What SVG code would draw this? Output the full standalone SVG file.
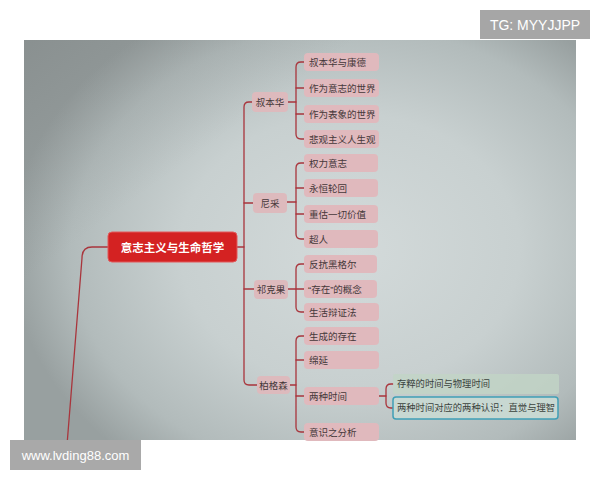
<svg xmlns="http://www.w3.org/2000/svg" width="600" height="480" viewBox="0 0 600 480">
<defs>
<radialGradient id="scr" cx="350" cy="250" r="340" gradientUnits="userSpaceOnUse" gradientTransform="translate(350 250) scale(1 0.8) translate(-350 -250)">
<stop offset="0" stop-color="#d3dada"/>
<stop offset="0.5" stop-color="#c8d0d0"/>
<stop offset="0.82" stop-color="#b2bbbb"/>
<stop offset="1" stop-color="#98a0a0"/>
</radialGradient>
<linearGradient id="topshade" x1="0" y1="0" x2="1" y2="1">
<stop offset="0" stop-color="#6f7373" stop-opacity="0.35"/>
<stop offset="0.3" stop-color="#6f7373" stop-opacity="0"/>
</linearGradient>
</defs>
<style>
.ln{fill:none;stroke:#a9353c;stroke-width:1.3;stroke-linecap:round}
.leaf rect{fill:#e0b9bd}
.leaf text,.br text{font-family:"Liberation Sans","Noto Sans CJK SC",sans-serif;font-size:9.5px;fill:#45383a;dominant-baseline:central}
.br rect{fill:#ddbabd}
.br text{text-anchor:middle}
.sub text{font-family:"Liberation Sans","Noto Sans CJK SC",sans-serif;font-size:9.3px;fill:#3a423d;dominant-baseline:central}
.wm{font-family:"Liberation Sans",Arial,sans-serif;fill:#ffffff;text-anchor:middle}
</style>
<rect x="0" y="0" width="600" height="480" fill="#ffffff"/>
<rect x="24" y="40" width="552" height="400" fill="url(#scr)"/>
<rect x="24" y="40" width="552" height="400" fill="url(#topshade)"/>

<g id="connectors">
<path class="ln" d="M108,247 H92 Q82,247 82,258 L67,445"/>
<path class="ln" d="M237,247 H244"/>
<path class="ln" d="M252,102 H249 Q244,102 244,107 V380 Q244,385 249,385 H257"/>
<path class="ln" d="M244,203 H253"/>
<path class="ln" d="M244,289 H254"/>
<path class="ln" d="M288,102 H296"/>
<path class="ln" d="M304,62 H301 Q296,62 296,67 V134 Q296,139 301,139 H304"/>
<path class="ln" d="M296,88 H304 M296,114 H304"/>
<path class="ln" d="M287,202 H296"/>
<path class="ln" d="M304,163 H301 Q296,163 296,168 V234 Q296,239 301,239 H304"/>
<path class="ln" d="M296,188 H304 M296,214 H304"/>
<path class="ln" d="M288,289 H304"/>
<path class="ln" d="M304,264 H301 Q296,264 296,269 V307 Q296,312 301,312 H304"/>
<path class="ln" d="M290,385 H296"/>
<path class="ln" d="M304,336 H301 Q296,336 296,341 V427 Q296,432 301,432 H304"/>
<path class="ln" d="M296,360 H304 M296,396 H304"/>
<path class="ln" d="M379,396 H386"/>
<path class="ln" d="M393,384 H391 Q386,384 386,389 V403 Q386,408 391,408 H393"/>
</g>

<g id="root">
<rect x="108" y="232" width="129" height="30" rx="4" fill="#d42222" stroke="#e2595a" stroke-width="1"/>
<text x="172.5" y="247" font-family="'Noto Sans CJK SC','Noto Sans',sans-serif" font-size="11.5" font-weight="bold" fill="#ffffff" text-anchor="middle" dominant-baseline="central">意志主义与生命哲学</text>
</g>

<g id="b-schopenhauer" class="br"><rect x="252" y="92" width="36" height="20" rx="4"/><text x="270" y="102">叔本华</text></g>
<g id="b-nietzsche" class="br"><rect x="253" y="193" width="34" height="20" rx="4"/><text x="270" y="203">尼采</text></g>
<g id="b-kierkegaard" class="br"><rect x="254" y="280" width="34" height="19" rx="4"/><text x="271" y="289.5">祁克果</text></g>
<g id="b-bergson" class="br"><rect x="257" y="376" width="33" height="18" rx="4"/><text x="273.5" y="385">柏格森</text></g>

<g id="l1" class="leaf"><rect x="304" y="53" width="75" height="18" rx="4"/><text x="309" y="62">叔本华与康德</text></g>
<g id="l2" class="leaf"><rect x="304" y="79" width="75" height="18" rx="4"/><text x="309" y="88">作为意志的世界</text></g>
<g id="l3" class="leaf"><rect x="304" y="105" width="75" height="18" rx="4"/><text x="309" y="114">作为表象的世界</text></g>
<g id="l4" class="leaf"><rect x="304" y="130" width="75" height="18" rx="4"/><text x="309" y="139">悲观主义人生观</text></g>
<g id="l5" class="leaf"><rect x="304" y="154" width="74" height="18" rx="4"/><text x="309" y="163">权力意志</text></g>
<g id="l6" class="leaf"><rect x="304" y="179" width="74" height="18" rx="4"/><text x="309" y="188">永恒轮回</text></g>
<g id="l7" class="leaf"><rect x="304" y="205" width="74" height="18" rx="4"/><text x="309" y="214">重估一切价值</text></g>
<g id="l8" class="leaf"><rect x="304" y="230" width="74" height="18" rx="4"/><text x="309" y="239">超人</text></g>
<g id="l9" class="leaf"><rect x="304" y="255" width="73" height="18" rx="4"/><text x="309" y="264">反抗黑格尔</text></g>
<g id="l10" class="leaf"><rect x="304" y="280" width="73" height="18" rx="4"/><text x="308" y="289">“存在”的概念</text></g>
<g id="l11" class="leaf"><rect x="304" y="303" width="75" height="18" rx="4"/><text x="309" y="312">生活辩证法</text></g>
<g id="l12" class="leaf"><rect x="304" y="327" width="75" height="18" rx="4"/><text x="309" y="336">生成的存在</text></g>
<g id="l13" class="leaf"><rect x="304" y="351" width="75" height="18" rx="4"/><text x="309" y="360">绵延</text></g>
<g id="l14" class="leaf"><rect x="304" y="387" width="75" height="18" rx="4"/><text x="309" y="396">两种时间</text></g>
<g id="l15" class="leaf"><rect x="304" y="423" width="75" height="18" rx="4"/><text x="309" y="432">意识之分析</text></g>

<g id="s1" class="sub"><rect x="393" y="374" width="166" height="20" rx="2" fill="#c2d4c6" opacity="0.8"/><text x="397" y="384">存粹的时间与物理时间</text></g>
<g id="s2" class="sub"><rect x="393" y="397" width="165" height="22" rx="3" fill="#c8d8d2" stroke="#3f9fb6" stroke-width="1.5"/><text x="397" y="408">两种时间对应的两种认识：直觉与理智</text></g>

<g id="wm-top"><rect x="480" y="10" width="110" height="29" fill="#a6a6a6"/><text class="wm" x="535" y="30" font-size="14">TG: MYYJJPP</text></g>
<g id="wm-bottom"><rect x="10" y="440" width="131" height="30" fill="#a9a9a9"/><text class="wm" x="75.5" y="459.5" font-size="13">www.lvding88.com</text></g>
</svg>
